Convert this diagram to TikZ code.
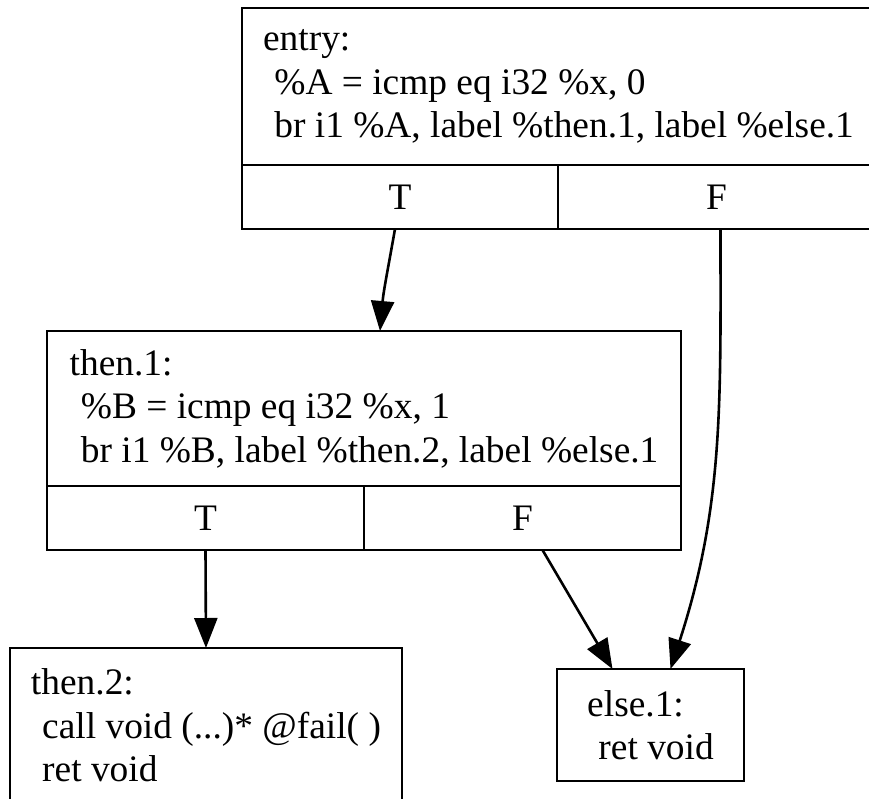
\documentclass[tikz,border=0pt]{standalone}
\usepackage{fontspec}
\setmainfont{Liberation Serif}
\usetikzlibrary{positioning,arrows.meta}
\newcommand\indsp{\hspace*{0.3em}}
\tikzset{
  blk/.style={draw, line width=1.3pt, outer sep=0pt, inner xsep=10.5pt, align=left,
    anchor=north west, font=\fontsize{18.7}{21.75}\selectfont},
  portcell/.style={draw, line width=1.3pt, outer sep=0pt, minimum height=32pt,
    font=\fontsize{18.7}{21.75}\selectfont},
  cfg/.style={line width=1.3pt, -{Triangle[length=15pt,width=11.5pt]}}
}
\begin{document}
\begin{tikzpicture}[x=0.5pt,y=-0.5pt]
\fill[white] (0,0) rectangle (869,799);
\useasboundingbox (0,0) rectangle (869,799);
\node[blk, minimum width=316.5pt, minimum height=78.5pt] (entry) at (242,8)
  {entry:\\\indsp\%A = icmp eq i32 \%x, 0\\\indsp br i1 \%A, label \%then.1, label \%else.1};
\node[portcell, minimum width=158pt, below right=0pt and 0pt of entry.south west] (entryT) {T};
\node[portcell, minimum width=158.5pt, right=0pt of entryT] (entryF) {F};
\node[blk, minimum width=317pt, minimum height=77.5pt] (then1) at (47,331)
  {then.1:\\\indsp\%B = icmp eq i32 \%x, 1\\\indsp br i1 \%B, label \%then.2, label \%else.1};
\node[portcell, minimum width=158.5pt, below right=0pt and 0pt of then1.south west] (then1T) {T};
\node[portcell, minimum width=158.5pt, right=0pt of then1T] (then1F) {F};
\node[blk, minimum width=195pt, minimum height=77.5pt] (then2) at (10,648)
  {then.2:\\\indsp call void (...)* @fail( )\\\indsp ret void};
\node[blk, minimum width=93.5pt, minimum height=56pt] (else1) at (557,669)
  {else.1:\\\indsp ret void};
\draw[cfg] ([xshift=-2.5pt]entryT.south) to[out=-100,in=85] ([xshift=8pt]then1.north);
\draw[cfg] ([xshift=2pt]entryF.south) to[out=-90,in=72] ([xshift=10pt]else1.north);
\draw[cfg] (then1T.south) -- (then2.north);
\draw[cfg] ([xshift=10pt]then1F.south) -- ([xshift=-19pt]else1.north);
\end{tikzpicture}
\end{document}
